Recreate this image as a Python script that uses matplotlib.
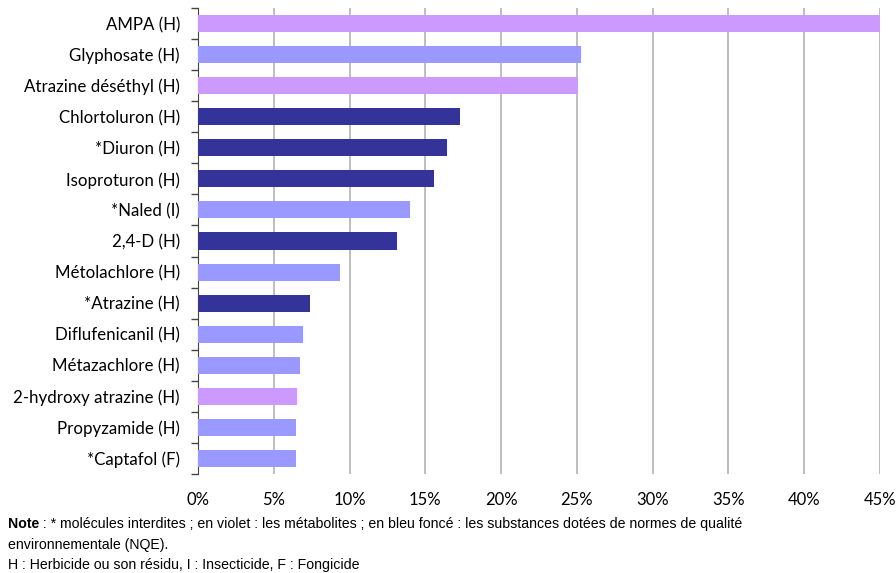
import numpy as np
import matplotlib.pyplot as plt
from matplotlib.ticker import FixedLocator, NullFormatter

labels = ["AMPA (H)", "Glyphosate (H)", "Atrazine déséthyl (H)", "Chlortoluron (H)",
          "*Diuron (H)", "Isoproturon (H)", "*Naled (I)", "2,4-D (H)",
          "Métolachlore (H)", "*Atrazine (H)", "Diflufenicanil (H)", "Métazachlore (H)",
          "2-hydroxy atrazine (H)", "Propyzamide (H)", "*Captafol (F)"]
values = [45.0, 25.3, 25.1, 17.3, 16.4, 15.6, 14.0, 13.1,
          9.4, 7.4, 6.9, 6.75, 6.55, 6.45, 6.45]
# m = métabolite, n = NQE, a = autre
kinds = ["m", "a", "m", "n", "n", "n", "a", "n",
         "a", "n", "a", "a", "m", "a", "a"]
xticks = [0, 5, 10, 15, 20, 25, 30, 35, 40, 45]

colours = {"m": "#CC99FF", "a": "#9999FF", "n": "#333399"}

fig = plt.figure(figsize=(8.96, 5.73), dpi=100)
ax = fig.add_axes([198/896, 1-474/573, 682/896, 466/573])

y = np.arange(len(labels))
ax.barh(y, values, height=0.55, color=[colours[k] for k in kinds],
        edgecolor="none", zorder=3)
ax.set_ylim(len(labels)-0.5, -0.5)
ax.set_xlim(0, 45)

ax.set_xticks(xticks)
ax.set_xticklabels([f"{t}%" for t in xticks], fontsize=12, family="Lato")
ax.tick_params(axis="x", length=0, pad=13)
ax.grid(axis="x", color="#B3B3B3", linewidth=1.2, zorder=0)

ax.set_yticks(y)
ax.set_yticklabels(labels, fontsize=12.2, family="Lato")
ax.tick_params(axis="y", length=0, pad=13)
ax.yaxis.set_minor_locator(FixedLocator(np.arange(-0.5, len(labels), 1)))
ax.yaxis.set_minor_formatter(NullFormatter())
ax.tick_params(axis="y", which="minor", length=5, width=1, color="#444444")

for s in ["top", "right", "bottom"]:
    ax.spines[s].set_visible(False)
ax.spines["left"].set_color("#444444")

note_font = dict(fontsize=10.2, family="Liberation Sans", va="center")
t = fig.text(8/896, 1-524/573, "Note", weight="bold", **note_font)
fig.canvas.draw()
bb = t.get_window_extent()
fig.text(bb.x1/896, 1-524/573, " : * molécules interdites ; en violet : les métabolites ; "
         "en bleu foncé : les substances dotées de normes de qualité", **note_font)
fig.text(8/896, 1-545/573, "environnementale (NQE).", **note_font)
fig.text(8/896, 1-565/573, "H : Herbicide ou son résidu, I : Insecticide, F : Fongicide",
         **note_font)

fig.savefig("out.png", dpi=100)
